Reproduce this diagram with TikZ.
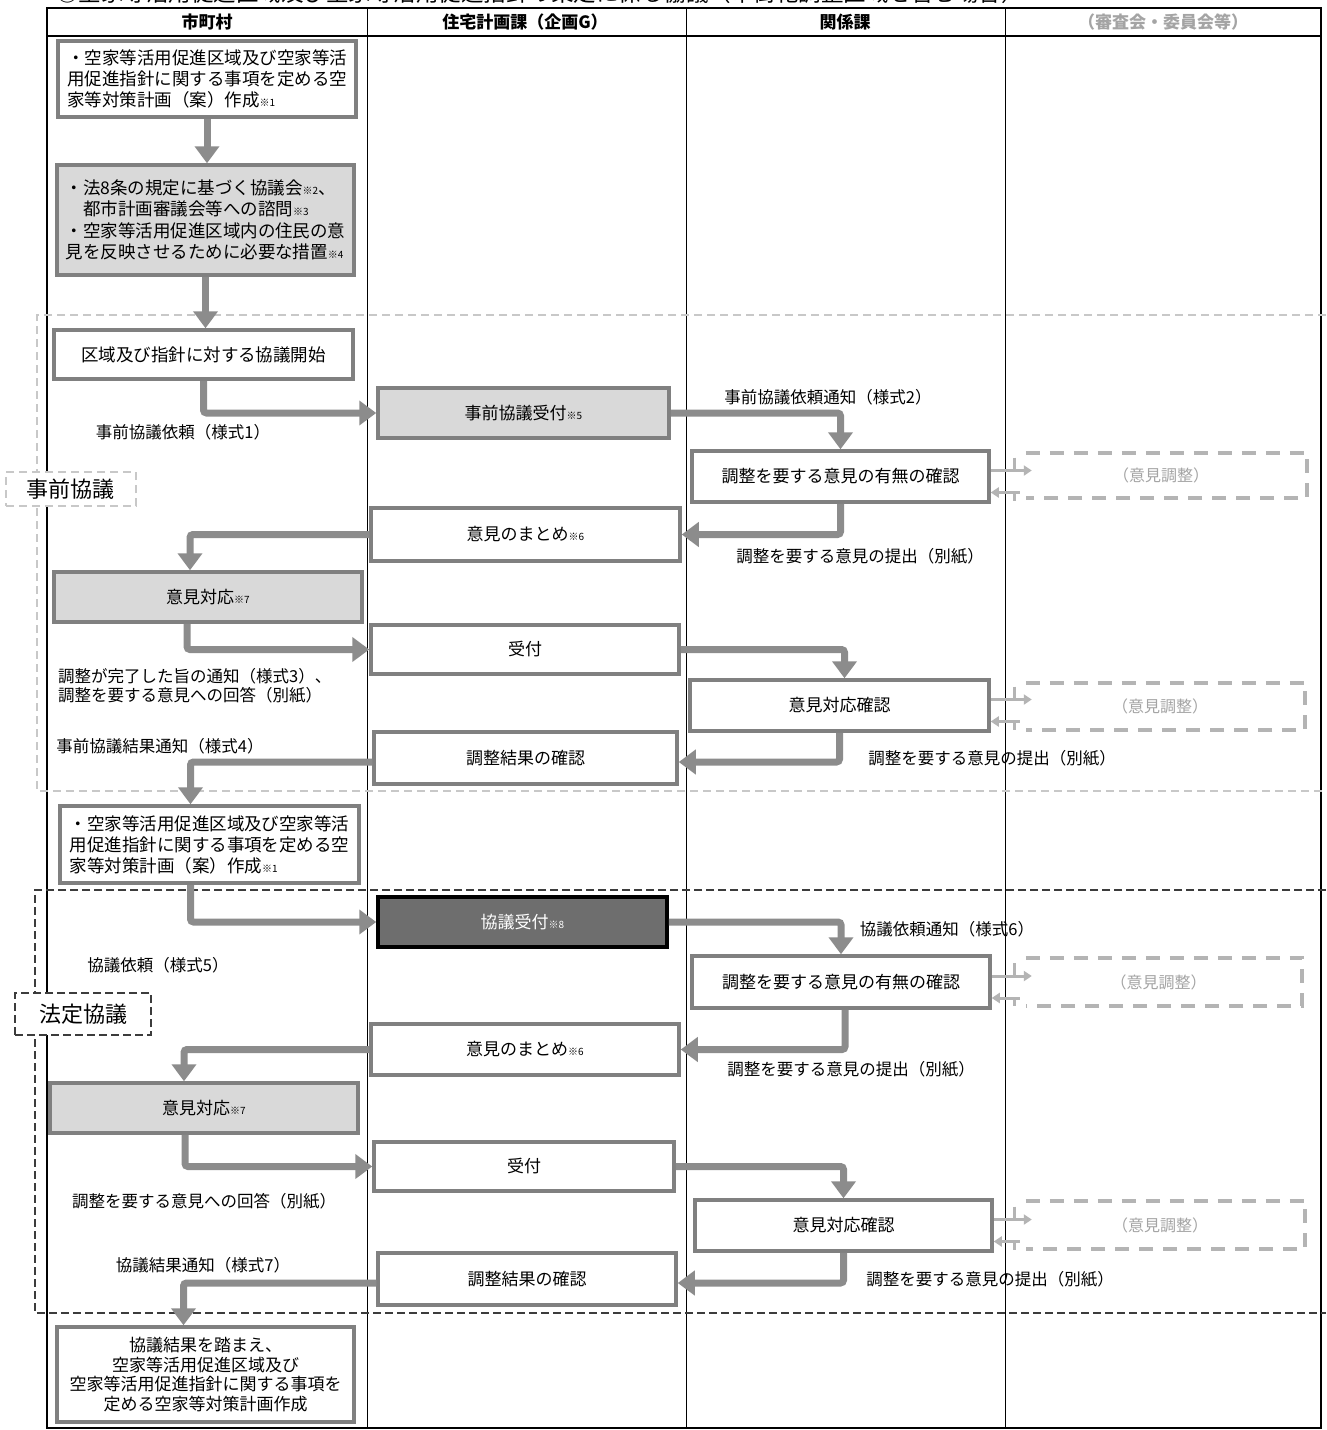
\documentclass[tikz,border=0pt]{standalone}
\usepackage{fontspec}
\setmainfont{Noto Sans CJK JP}
\usetikzlibrary{arrows.meta,calc}
\definecolor{bordergray}{HTML}{808080}
\definecolor{fillgray}{HTML}{D9D9D9}
\definecolor{arrowgray}{HTML}{8C8C8C}
\definecolor{lightg}{HTML}{B4B4B4}
\definecolor{lighttext}{HTML}{A4A4A4}
\definecolor{darkfill}{HTML}{6E6E6E}
\definecolor{regdark}{HTML}{3C3C3C}
\definecolor{reglight}{HTML}{C8C8C8}
\newcommand\fs[1]{\fontsize{#1}{#1}\selectfont}
\newcommand\nt[1]{{\fontsize{10}{10}\selectfont ※#1}}
\newcommand\sidearr[2]{%
  \draw[sar] ([yshift=6pt]#1.east) -- ($(#1.east -| #2.west)+(17,-6)$);
  \draw[sar] ($(#1.east -| #2.west)+(5,16)$) -- ([yshift=-16pt]#1.east);
  \draw[stick] ($(#1.east -| #2.west)+(0,-19)$) -- ($(#1.east -| #2.west)+(0,-6)$);
  \draw[stick] ($(#1.east -| #2.west)+(0,16)$) -- ($(#1.east -| #2.west)+(0,24)$);
  \draw[dbord] ([xshift=11pt]#2.north west) -- (#2.north east) -- (#2.south east) -- ([xshift=11pt]#2.south west);
}
\begin{document}
\begin{tikzpicture}[x=1pt,y=-1pt,
  box/.style={draw=bordergray, line width=3.5pt, fill=white, inner sep=0pt, font=\fs{17}, align=center, text=black},
  gbox/.style={box, fill=fillgray},
  mtext/.style={align=left, font={\fontsize{17.5}{21}\selectfont}},
  dbox/.style={inner sep=0pt, font=\fs{16}, text=lighttext},
  lbl/.style={inner sep=0pt, font=\fs{16.5}},
  hdr/.style={inner sep=0pt, font=\fs{17}\bfseries},
  flow/.style={draw=arrowgray, line width=7pt, rounded corners=3pt, -{Triangle[width=24pt,length=17pt]}},
  sar/.style={draw=lightg, line width=3pt, -{Triangle[width=10pt,length=8pt]}},
  stick/.style={draw=lightg, line width=3pt},
  dbord/.style={draw=lightg, line width=4pt, dash pattern=on 14pt off 10pt},
  regA/.style={draw=reglight, line width=1.5pt, dash pattern=on 8pt off 5pt},
  regB/.style={draw=regdark, line width=2pt, dash pattern=on 8pt off 4pt},
  reglabA/.style={regA, fill=white, inner sep=0pt, font=\fs{22}},
  reglabB/.style={regB, fill=white, inner sep=0pt, font=\fs{22}}
]
\useasboundingbox (0,0) rectangle (1326,1430);
\fill[white] (0,0) rectangle (1326,1430);
% cut-off title (partly outside the page, as in the reference)
\node[anchor=base west, inner sep=0pt, font=\fs{22.5}] (title) at (56,1.5) {○空家等活用促進区域及び空家等活用促進指針の策定に係る協議（市街化調整区域を含む場合）};
% table
\draw[line width=1pt] (367,8) -- (367,1428) (686,8) -- (686,1428) (1005,8) -- (1005,1428);
\draw[line width=2.5pt] (47,36) -- (1321,36);
\draw[line width=2pt] (47,8) rectangle (1321,1428);
\node[hdr] (h1) at (207,22) {市町村};
\node[hdr] (h2) at (525,22) {住宅計画課（企画G）};
\node[hdr] (h3) at (845,22) {関係課};
\node[hdr, text=lighttext] (h4) at (1163,22) {（審査会・委員会等）};
% regions
\draw[regA] (1326,315) -- (37,315) -- (37,791) -- (1326,791);
\draw[regB] (1326,890) -- (35,890) -- (35,1313) -- (1326,1313);
% boxes
\node[box, mtext, minimum width=298pt, minimum height=76pt] (A1) at (207,79) {・空家等活用促進区域及び空家等活\\用促進指針に関する事項を定める空\\家等対策計画（案）作成\nt{1}};
\node[gbox, align=left, font={\fontsize{17.5}{21.5}\selectfont}, minimum width=297pt, minimum height=110pt] (A2) at (205.5,220) {・法8条の規定に基づく協議会\nt{2}、\\　都市計画審議会等への諮問\nt{3}\\・空家等活用促進区域内の住民の意\\見を反映させるために必要な措置\nt{4}};
\node[box, minimum width=299pt, minimum height=49pt, font=\fs{17.5}] (A3) at (203.5,354.5) {区域及び指針に対する協議開始};
\node[gbox, minimum width=291pt, minimum height=50pt] (B1) at (523.5,413) {事前協議受付\nt{5}};
\node[box, minimum width=297pt, minimum height=51pt] (C1) at (840.5,476.5) {調整を要する意見の有無の確認};
\node[dbox, minimum width=292pt, minimum height=45pt] (D1) at (1161,475.5) {（意見調整）};
\node[box, minimum width=309pt, minimum height=53pt] (B2) at (525.5,534.5) {意見のまとめ\nt{6}};
\node[gbox, minimum width=308pt, minimum height=50pt] (A4) at (208,597) {意見対応\nt{7}};
\node[box, minimum width=308pt, minimum height=49pt] (B3) at (525,649.5) {受付};
\node[box, minimum width=299pt, minimum height=51pt] (C2) at (839.5,705.5) {意見対応確認};
\node[dbox, minimum width=290pt, minimum height=47pt] (D2) at (1160,706.5) {（意見調整）};
\node[box, minimum width=303pt, minimum height=52pt] (B4) at (525.5,758) {調整結果の確認};
\node[box, mtext, minimum width=299pt, minimum height=77pt] (A5) at (209.5,844.5) {・空家等活用促進区域及び空家等活\\用促進指針に関する事項を定める空\\家等対策計画（案）作成\nt{1}};
\node[box, draw=black, fill=darkfill, text=white, minimum width=289pt, minimum height=50pt] (B5) at (522.5,922) {協議受付\nt{8}};
\node[box, minimum width=298pt, minimum height=52pt] (C3) at (841,982) {調整を要する意見の有無の確認};
\node[dbox, minimum width=287pt, minimum height=48pt] (D3) at (1158.5,982) {（意見調整）};
\node[box, minimum width=308pt, minimum height=51pt] (B6) at (525,1049.5) {意見のまとめ\nt{6}};
\node[gbox, minimum width=308pt, minimum height=50pt] (A6) at (204,1108) {意見対応\nt{7}};
\node[box, minimum width=300pt, minimum height=49pt] (B7) at (524,1166.5) {受付};
\node[box, minimum width=297pt, minimum height=51pt] (C4) at (843.5,1225.5) {意見対応確認};
\node[dbox, minimum width=290pt, minimum height=48pt] (D4) at (1160,1225) {（意見調整）};
\node[box, minimum width=298pt, minimum height=52pt] (B8) at (527,1279) {調整結果の確認};
\node[box, align=center, font={\fontsize{17}{19.5}\selectfont}, minimum width=297pt, minimum height=95pt] (A7) at (205.5,1374.5) {協議結果を踏まえ、\\空家等活用促進区域及び\\空家等活用促進指針に関する事項を\\定める空家等対策計画作成};
% labels
\node[lbl] (L1) at (183,432) {事前協議依頼（様式1）};
\node[lbl] (L2) at (828,397) {事前協議依頼通知（様式2）};
\node[lbl] (L3) at (860,556) {調整を要する意見の提出（別紙）};
\node[lbl, align=left, anchor=west, font={\fontsize{16.5}{19}\selectfont}] (L4) at (58,686) {調整が完了した旨の通知（様式3）、\\調整を要する意見への回答（別紙）};
\node[lbl] (L5) at (992,758) {調整を要する意見の提出（別紙）};
\node[lbl] (L6) at (160,746) {事前協議結果通知（様式4）};
\node[lbl] (L7) at (158,965) {協議依頼（様式5）};
\node[lbl] (L8) at (947,929) {協議依頼通知（様式6）};
\node[lbl] (L9) at (851,1069) {調整を要する意見の提出（別紙）};
\node[lbl] (L10) at (204,1201) {調整を要する意見への回答（別紙）};
\node[lbl] (L11) at (203,1265) {協議結果通知（様式7）};
\node[lbl] (L12) at (990,1279) {調整を要する意見の提出（別紙）};
% flows
\draw[flow] (A1.south) -- (A1.south |- A2.north);
\draw[flow] (A2.south) -- (A2.south |- A3.north);
\draw[flow] (A3.south) |- (B1.west);
\draw[flow] (B1.east) -| (C1.north);
\draw[flow] (C1.south) |- (B2.east);
\draw[flow] (B2.west) -| ([xshift=-18pt]A4.north);
\draw[flow] ([xshift=-21pt]A4.south) |- (B3.west);
\draw[flow] (B3.east) -| ([xshift=5pt]C2.north);
\draw[flow] (C2.south) |- ([yshift=-4pt]B4.east);
\draw[flow] ([yshift=-4pt]B4.west) -| ([xshift=-19pt]A5.north);
\draw[flow] ([xshift=-19pt]A5.south) |- (B5.west);
\draw[flow] (B5.east) -| (C3.north);
\draw[flow] ([xshift=4pt]C3.south) |- (B6.east);
\draw[flow] (B6.west) -| ([xshift=-20pt]A6.north);
\draw[flow] ([xshift=-19pt]A6.south) |- (B7.west);
\draw[flow] (B7.east) -| (C4.north);
\draw[flow] (C4.south) |- ([yshift=-4pt]B8.east);
\draw[flow] ([yshift=-4pt]B8.west) -| ([xshift=-22pt]A7.north);
% side arrows to dashed boxes
\sidearr{C1}{D1}
\sidearr{C2}{D2}
\sidearr{C3}{D3}
\sidearr{C4}{D4}
% region labels
\node[reglabA, minimum width=130pt, minimum height=34pt] (R1) at (71,489) {事前協議};
\node[reglabB, minimum width=136pt, minimum height=42pt] (R2) at (83,1014) {法定協議};
\end{tikzpicture}
\end{document}
